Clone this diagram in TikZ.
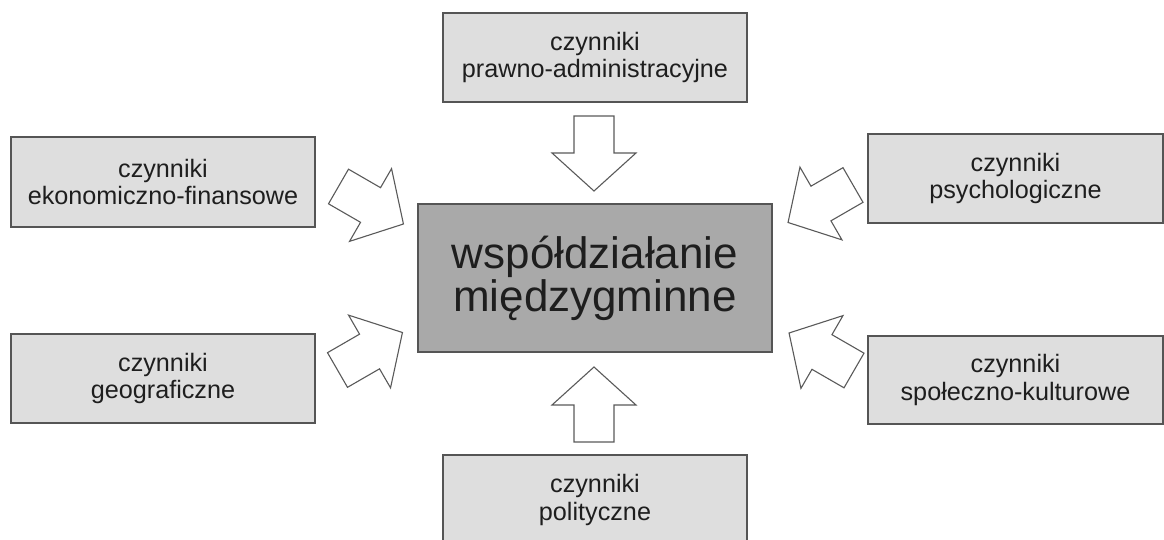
\documentclass[tikz,border=0pt]{standalone}
\usepackage{fontspec}
\setmainfont{Liberation Sans}
\begin{document}
\begin{tikzpicture}[x=0.5pt,y=-0.5pt,
  factor/.style={draw=boxline, line width=0.8pt, fill=boxfill, inner sep=0pt,
    align=center, text=textcol,
    font=\fontsize{12.6pt}{13.6pt}\selectfont},
  core/.style={draw=boxline, line width=0.8pt, fill=corefill, inner sep=0pt,
    align=center, text=textcol,
    font=\fontsize{22pt}{19.5pt}\selectfont},
  blockarrow/.style={draw=arrowline, line width=0.55pt, fill=white, line join=miter}]
\definecolor{boxfill}{HTML}{DEDEDE}
\definecolor{corefill}{HTML}{A9A9A9}
\definecolor{boxline}{HTML}{555555}
\definecolor{arrowline}{HTML}{5A5A5A}
\definecolor{textcol}{HTML}{1E1E1E}
\useasboundingbox (0,0) rectangle (1164,540);

% boxes
\node[core, minimum width=177pt, minimum height=74pt] (core) at (595,278)
  {współdziałanie\\międzygminne};
\node[factor, minimum width=152pt, minimum height=44.5pt] (prawne) at (595,57.5)
  {czynniki\\prawno-administracyjne};
\node[factor, minimum width=152pt, minimum height=45pt] (ekon) at (163,182)
  {czynniki\\ekonomiczno-finansowe};
\node[factor, minimum width=147.5pt, minimum height=44.5pt] (psych) at (1015.5,178.5)
  {czynniki\\psychologiczne};
\node[factor, minimum width=152pt, minimum height=44.5pt] (geo) at (163,378.5)
  {czynniki\\geograficzne};
\node[factor, minimum width=147.5pt, minimum height=44pt] (spol) at (1015.5,380)
  {czynniki\\społeczno-kulturowe};
\node[factor, minimum width=152pt, minimum height=45pt] (polit) at (595,500)
  {czynniki\\polityczne};

% block arrows: tail centre, direction
\newcommand{\blockarr}[2]{%
  \draw[blockarrow, shift={#1}, rotate=#2]
    (0,20) -- (37,20) -- (37,42) -- (75,0) -- (37,-42) -- (37,-20) -- (0,-20) -- cycle;}
\coordinate (aPrawne) at (594,116);
\coordinate (aPolit) at (594,442);
\coordinate (aEkon) at (338.5,186.5);
\coordinate (aPsych) at (853,185);
\coordinate (aGeo) at (337.5,370);
\coordinate (aSpol) at (854,370.5);
\blockarr{(aPrawne)}{-90}
\blockarr{(aPolit)}{90}
\blockarr{(aEkon)}{-30}
\blockarr{(aPsych)}{210}
\blockarr{(aGeo)}{30}
\blockarr{(aSpol)}{150}
\end{tikzpicture}
\end{document}
